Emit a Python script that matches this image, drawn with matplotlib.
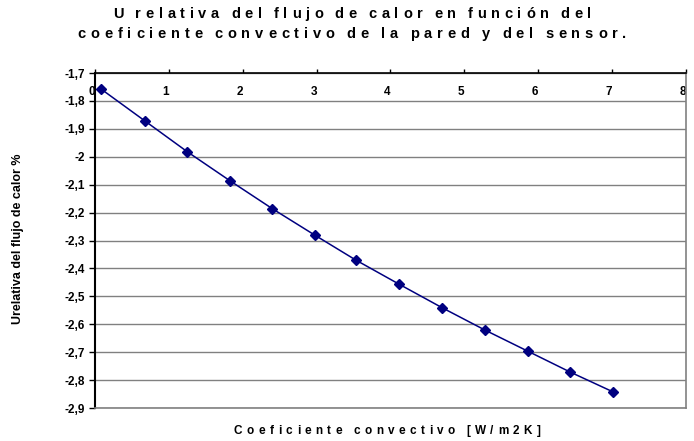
import matplotlib
matplotlib.use("Agg")
import matplotlib.pyplot as plt
from matplotlib.transforms import ScaledTranslation

plt.rcParams['font.family'] = ['Liberation Sans', 'DejaVu Sans']

# Datos
coef = [0.085, 0.677, 1.249, 1.827, 2.40, 2.977, 3.53, 4.12, 4.70, 5.28, 5.855, 6.43, 7.01]
u_rel = [-1.758, -1.872, -1.982, -2.086, -2.186, -2.281, -2.370, -2.457, -2.541,
         -2.621, -2.696, -2.771, -2.842]

x_ticks = [0, 1, 2, 3, 4, 5, 6, 7, 8]
y_ticks = [-1.7, -1.8, -1.9, -2.0, -2.1, -2.2, -2.3, -2.4, -2.5, -2.6, -2.7, -2.8, -2.9]
y_labels = ["-1,7", "-1,8", "-1,9", "-2", "-2,1", "-2,2", "-2,3", "-2,4", "-2,5",
            "-2,6", "-2,7", "-2,8", "-2,9"]

title_l1 = "U relativa del flujo de calor en función del"
title_l2 = "coeficiente convectivo de la pared y del sensor."
xlabel = "Coeficiente convectivo [W/m2K]"
ylabel = "Urelativa del flujo de calor %"

W, H = 694, 441
fig = plt.figure(figsize=(W / 100, H / 100), dpi=100)
renderer = fig.canvas.get_renderer()


def ancho(s, **kw):
    t = fig.text(0, 0, s, **kw)
    w = t.get_window_extent(renderer).width
    t.remove()
    return w


def texto_espaciado(s, cx, cy, total, **kw):
    # dibuja letra a letra para imitar el espaciado del original (pixeles)
    esp = ancho("a a", **kw) - ancho("aa", **kw)
    anchos = [esp * 0.6 if c == " " else ancho(c, **kw) for c in s]
    extra = (total - sum(anchos)) / (len(s) - 1)
    pos = -total / 2
    for c, w in zip(s, anchos):
        if c != " ":
            fig.text((cx + pos) / W, 1 - cy / H, c, ha='left', va='center', **kw)
        pos += w + extra


ax = fig.add_axes([95 / W, 1 - 408 / H, 591 / W, 335 / H])

ax.plot(coef, u_rel, color='#000080', lw=1.1, marker='D', markersize=5,
        markeredgecolor='#000080', markerfacecolor='#000080')

ax.set_xlim(0, 8)
ax.set_ylim(-2.9, -1.7)
ax.set_yticks(y_ticks)
ax.set_yticklabels(y_labels, fontsize=8.5, fontweight='bold')
ax.set_xticks(x_ticks)
ax.set_xticklabels([str(t) for t in x_ticks], fontsize=8.5, fontweight='bold')

ax.xaxis.tick_top()
ax.tick_params(axis='x', direction='out', length=3, pad=-21, width=1)
ax.tick_params(axis='y', direction='out', length=4, width=1)
for lbl in ax.get_xticklabels():
    lbl.set_transform(lbl.get_transform() + ScaledTranslation(-0.03, 0, fig.dpi_scale_trans))

ax.yaxis.grid(True, color='#808080', lw=1)
ax.set_axisbelow(True)

ax.spines['left'].set_linewidth(1.5)
ax.spines['left'].set_color('black')
ax.spines['top'].set_color('black')
ax.spines['top'].set_linewidth(1.2)
ax.spines['right'].set_color('#808080')
ax.spines['right'].set_linewidth(1.2)
ax.spines['bottom'].set_color('#808080')
ax.spines['bottom'].set_linewidth(1.2)

texto_espaciado(title_l1, 352, 14, 478, fontsize=10.5, fontweight='bold')
texto_espaciado(title_l2, 352, 34, 549, fontsize=10.5, fontweight='bold')
texto_espaciado(xlabel, 387, 431, 307, fontsize=8.5, fontweight='bold')
fig.text(18 / W, 1 - 239 / H, ylabel, rotation=90, ha='center', va='center',
         fontsize=9, fontweight='bold')

fig.savefig("out.png", dpi=100)
